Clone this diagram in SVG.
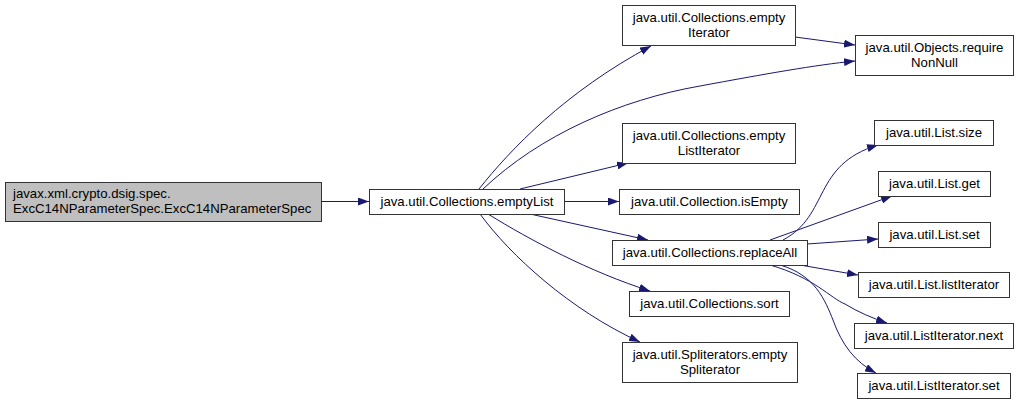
<svg xmlns="http://www.w3.org/2000/svg" width="1019" height="405" viewBox="0 0 1019 405">
<style>
.node rect{fill:#fff;stroke:#333;stroke-width:1}
.node.root rect{fill:#bfbfbf}
.node text{font-family:"Liberation Sans",Arial,sans-serif;font-size:13.2px;fill:#000;text-anchor:middle}
.node.root text{text-anchor:start}
.edges path{fill:none;stroke:#191970;stroke-width:1}
</style>
<defs>
<marker id="ah" markerUnits="userSpaceOnUse" markerWidth="11" markerHeight="8" refX="11" refY="4" orient="auto">
<path d="M0,0 L11,4 L0,8 z" fill="#191970"/>
</marker>
</defs>
<rect width="1019" height="405" fill="#fff"/>
<g class="edges" marker-end="url(#ah)">
<path d="M321,201.5 L369,201.5" marker-end="url(#ah)"/>
<path d="M479,189 C510,150 565,92 651,46" marker-end="url(#ah)"/>
<path d="M483,189 C540,135 620,100 700,86 C765,74 815,65 855,61" marker-end="url(#ah)"/>
<path d="M795,37 L855,45" marker-end="url(#ah)"/>
<path d="M520,189 L628,163" marker-end="url(#ah)"/>
<path d="M564,201.5 L619,201.5" marker-end="url(#ah)"/>
<path d="M530,214 L648,240" marker-end="url(#ah)"/>
<path d="M488,214 C530,240 590,272 650,291" marker-end="url(#ah)"/>
<path d="M480,214 C510,255 570,310 640,342" marker-end="url(#ah)"/>
<path d="M783,240 C830,215 812,165 878,145" marker-end="url(#ah)"/>
<path d="M770,240 L892,196" marker-end="url(#ah)"/>
<path d="M807,244 L878,239" marker-end="url(#ah)"/>
<path d="M800,265 L858,275" marker-end="url(#ah)"/>
<path d="M770,265 C815,278 830,298 845,304 C858,312 872,318 887,323" marker-end="url(#ah)"/>
<path d="M780,265 C815,275 825,300 833,320 C842,345 855,362 876,373" marker-end="url(#ah)"/>
</g>
<g id="n1" class="node root"><rect x="5.5" y="182.5" width="316" height="39"/><text x="13" y="198">javax.xml.crypto.dsig.spec.</text><text x="13" y="213">ExcC14NParameterSpec.ExcC14NParameterSpec</text></g>
<g id="n2" class="node"><rect x="369.5" y="189.5" width="195" height="25"/><text x="467" y="206">java.util.Collections.emptyList</text></g>
<g id="n3" class="node"><rect x="622.5" y="5.5" width="173" height="40"/><text x="709" y="22">java.util.Collections.empty</text><text x="709" y="37">Iterator</text></g>
<g id="n4" class="node"><rect x="855.5" y="35.5" width="158" height="40"/><text x="934.5" y="52">java.util.Objects.require</text><text x="934.5" y="67">NonNull</text></g>
<g id="n5" class="node"><rect x="622.5" y="123.5" width="173" height="40"/><text x="709" y="140">java.util.Collections.empty</text><text x="709" y="155">ListIterator</text></g>
<g id="n6" class="node"><rect x="619.5" y="189.5" width="180" height="25"/><text x="709.5" y="206">java.util.Collection.isEmpty</text></g>
<g id="n7" class="node"><rect x="612.5" y="240.5" width="195" height="25"/><text x="710" y="257">java.util.Collections.replaceAll</text></g>
<g id="n8" class="node"><rect x="629.5" y="291.5" width="160" height="25"/><text x="709.5" y="308">java.util.Collections.sort</text></g>
<g id="n9" class="node"><rect x="622.5" y="342.5" width="175" height="40"/><text x="710" y="359">java.util.Spliterators.empty</text><text x="710" y="374">Spliterator</text></g>
<g id="n10" class="node"><rect x="874.5" y="120.5" width="119" height="25"/><text x="934" y="137">java.util.List.size</text></g>
<g id="n11" class="node"><rect x="878.5" y="171.5" width="112" height="25"/><text x="934.5" y="188">java.util.List.get</text></g>
<g id="n12" class="node"><rect x="878.5" y="222.5" width="112" height="25"/><text x="934.5" y="239">java.util.List.set</text></g>
<g id="n13" class="node"><rect x="858.5" y="272.5" width="151" height="25"/><text x="934" y="289">java.util.List.listIterator</text></g>
<g id="n14" class="node"><rect x="854.5" y="323.5" width="159" height="25"/><text x="934" y="340">java.util.ListIterator.next</text></g>
<g id="n15" class="node"><rect x="857.5" y="373.5" width="153" height="25"/><text x="934" y="390">java.util.ListIterator.set</text></g>
</svg>
